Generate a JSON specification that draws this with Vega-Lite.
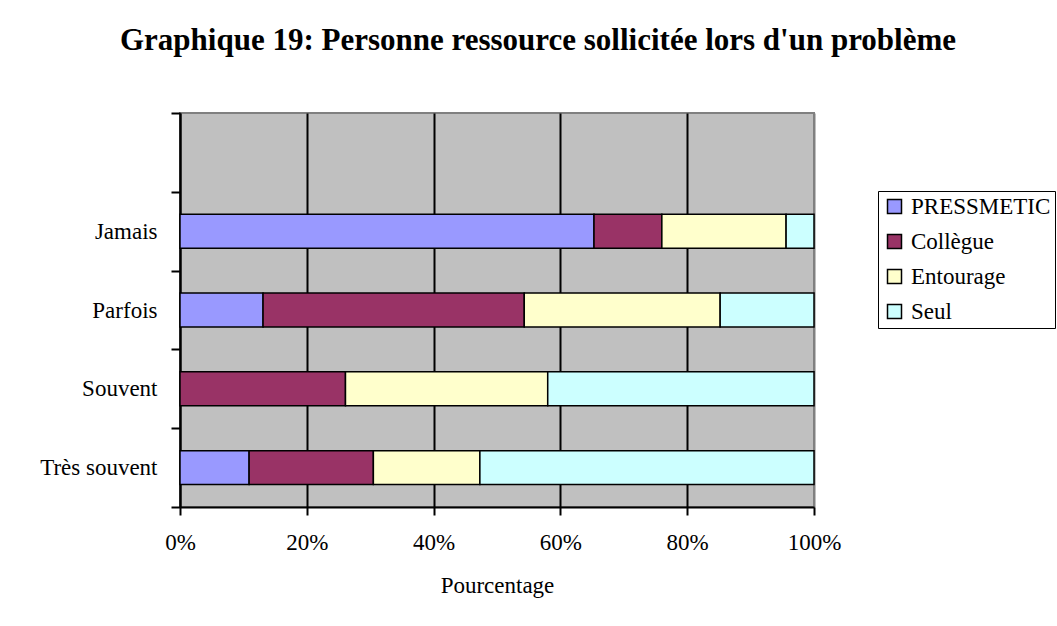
{
  "$schema": "https://vega.github.io/schema/vega-lite/v6.json",
  "autosize": "none",
  "width": 634,
  "height": 394,
  "padding": {"left": 180, "top": 113, "right": 243, "bottom": 119},
  "background": "white",
  "title": {
    "text": "Graphique 19: Personne ressource sollicitée lors d'un problème",
    "font": "Liberation Serif",
    "fontSize": 31,
    "fontWeight": "bold",
    "color": "black",
    "anchor": "middle",
    "dx": 41,
    "offset": 45
  },
  "data": {
    "values": [
      {"freq": "Jamais", "source": "PRESSMETIC", "pct": 65.3},
      {"freq": "Jamais", "source": "Collègue", "pct": 10.7},
      {"freq": "Jamais", "source": "Entourage", "pct": 19.6},
      {"freq": "Jamais", "source": "Seul", "pct": 4.4},
      {"freq": "Parfois", "source": "PRESSMETIC", "pct": 13.1},
      {"freq": "Parfois", "source": "Collègue", "pct": 41.2},
      {"freq": "Parfois", "source": "Entourage", "pct": 30.9},
      {"freq": "Parfois", "source": "Seul", "pct": 14.8},
      {"freq": "Souvent", "source": "Collègue", "pct": 26.1},
      {"freq": "Souvent", "source": "Entourage", "pct": 31.9},
      {"freq": "Souvent", "source": "Seul", "pct": 42.0},
      {"freq": "Très souvent", "source": "PRESSMETIC", "pct": 10.9},
      {"freq": "Très souvent", "source": "Collègue", "pct": 19.6},
      {"freq": "Très souvent", "source": "Entourage", "pct": 16.8},
      {"freq": "Très souvent", "source": "Seul", "pct": 52.7}
    ]
  },
  "transform": [
    {"calculate": "indexof(['PRESSMETIC', 'Collègue', 'Entourage', 'Seul'], datum.source)", "as": "stackOrder"}
  ],
  "mark": {"type": "bar", "height": {"band": 0.43}, "stroke": "black", "strokeWidth": 1.5},
  "encoding": {
    "y": {
      "field": "freq",
      "type": "nominal",
      "scale": {"domain": [" ", "Jamais", "Parfois", "Souvent", "Très souvent"], "paddingInner": 0, "paddingOuter": 0},
      "axis": {
        "title": null,
        "tickBand": "extent",
        "tickSize": 9,
        "tickWidth": 2,
        "tickColor": "black",
        "domainColor": "black",
        "domainWidth": 2,
        "labelPadding": 14,
        "labelFont": "Liberation Serif",
        "labelFontSize": 23,
        "labelColor": "black",
        "grid": false
      }
    },
    "x": {
      "field": "pct",
      "type": "quantitative",
      "stack": "normalize",
      "scale": {"domain": [0, 1], "nice": false},
      "axis": {
        "title": "Pourcentage",
        "titleFont": "Liberation Serif",
        "titleFontSize": 23,
        "titleFontWeight": "normal",
        "titleColor": "black",
        "titlePadding": 20,
        "format": ".0%",
        "values": [0, 0.2, 0.4, 0.6, 0.8, 1],
        "tickSize": 8,
        "tickWidth": 2,
        "tickColor": "black",
        "domainColor": "black",
        "domainWidth": 2,
        "labelPadding": 16,
        "labelFont": "Liberation Serif",
        "labelFontSize": 23,
        "labelColor": "black",
        "labelFlush": false,
        "grid": true,
        "gridColor": {"condition": {"test": "datum.value >= 1", "value": "#808080"}, "value": "black"},
        "gridWidth": 2,
        "gridOpacity": 1
      }
    },
    "color": {
      "field": "source",
      "type": "nominal",
      "sort": ["PRESSMETIC", "Collègue", "Entourage", "Seul"],
      "scale": {
        "domain": ["PRESSMETIC", "Collègue", "Entourage", "Seul"],
        "range": ["#9999FF", "#993366", "#FFFFCC", "#CCFFFF"]
      },
      "legend": {
        "title": null,
        "orient": "none",
        "legendX": 698,
        "legendY": 78,
        "padding": 4,
        "strokeColor": "black",
        "fillColor": "white",
        "symbolType": "square",
        "symbolSize": 196,
        "symbolStrokeColor": "black",
        "symbolStrokeWidth": 1.5,
        "symbolOpacity": 1,
        "symbolOffset": 1,
        "labelOffset": 5,
        "labelFont": "Liberation Serif",
        "labelFontSize": 23,
        "labelColor": "black",
        "rowPadding": 11
      }
    },
    "order": {"field": "stackOrder", "type": "quantitative", "sort": "ascending"}
  },
  "config": {
    "view": {"fill": "#C0C0C0", "stroke": "#808080", "strokeWidth": 2}
  }
}
